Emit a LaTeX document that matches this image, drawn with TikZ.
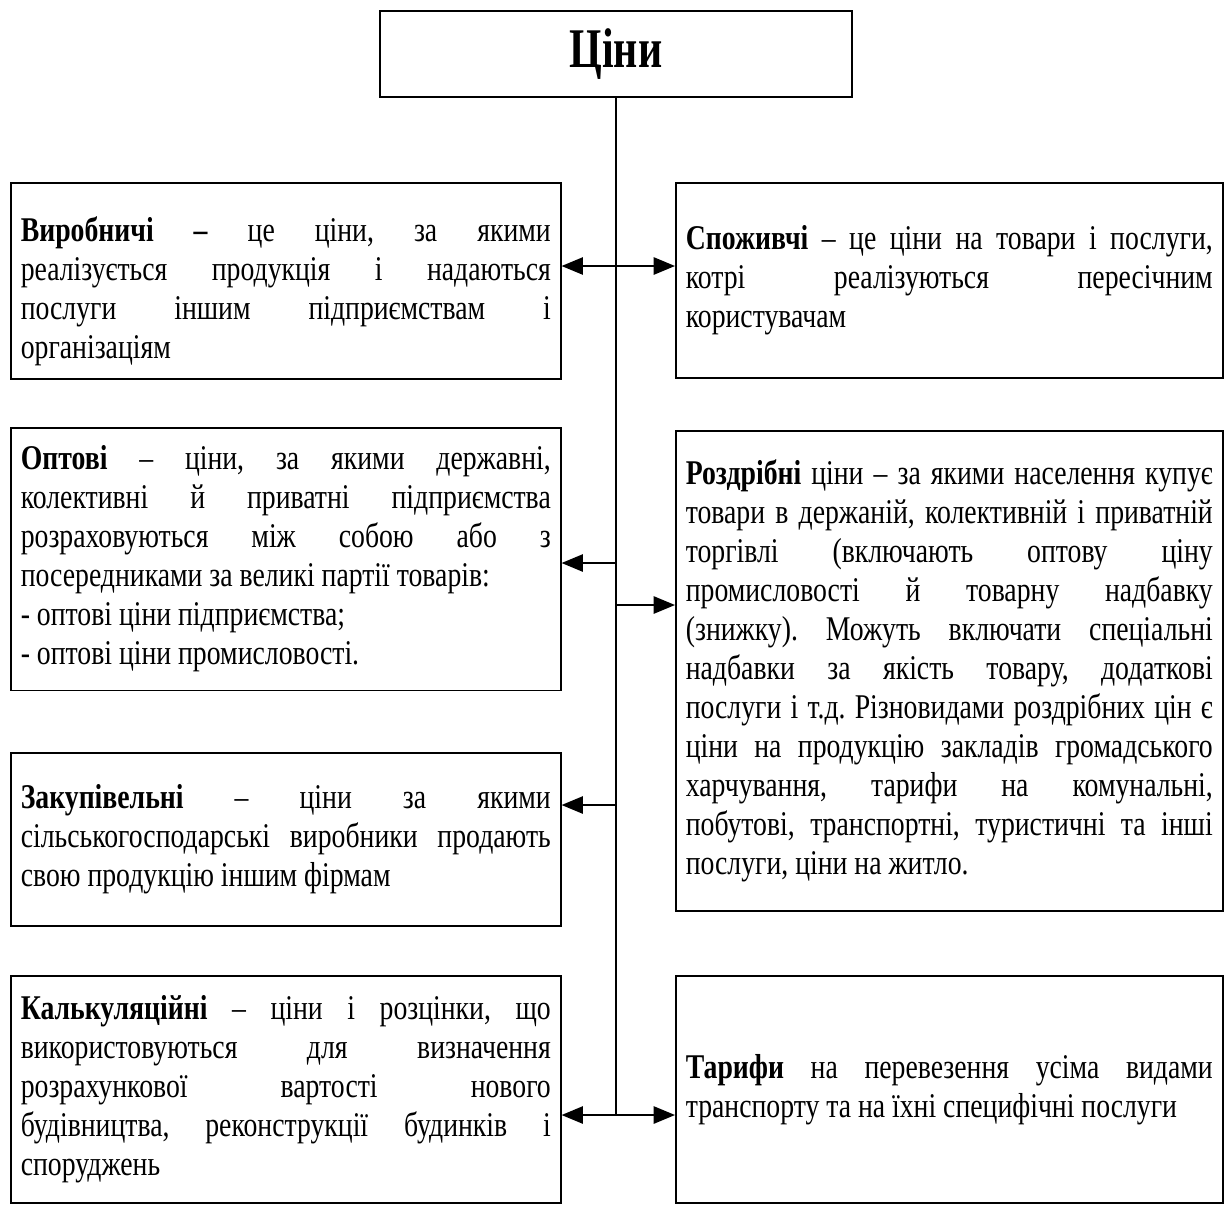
\documentclass[tikz,border=0pt]{standalone}
\usepackage{fontspec}
\setmainfont{Liberation Serif}[FakeStretch=0.8]
\newfontfamily\titlefont{Liberation Serif}[FakeStretch=0.75]
\usetikzlibrary{arrows.meta}
\tikzstyle{box} = [draw, line width=1.2pt, anchor=north west, inner xsep=7.5pt, inner ysep=0pt, align=justify, font=\fontsize{26pt}{29.25pt}\selectfont]
\tikzstyle{arrow} = [draw, line width=1.2pt, -{Triangle[length=16pt, width=13pt]}]
\tikzstyle{spine} = [draw, line width=1.2pt]

\begin{document}
\begin{tikzpicture}[x=0.75pt, y=-0.75pt]
\useasboundingbox (0,0) rectangle (1226,1204);
\hyphenpenalty=10000 \tolerance=10000 \frenchspacing

\node [draw, line width=1.2pt, minimum width=354pt, minimum height=64.5pt, font=\titlefont\fontsize{42pt}{50pt}\selectfont\bfseries] at (616,54) (title) {Ціни};

% left column
\node [box, text width=397.5pt, minimum height=147pt] at (10,182) (vyrob) {\rule{0pt}{34pt}\textbf{Виробничі –} це ціни, за якими\linebreak реалізується продукція і надаються\linebreak послуги іншим підприємствам і\linebreak організаціям};

\node [box, text width=397.5pt, minimum height=197pt] at (10,427) (opt) {\textbf{Оптові} – ціни, за якими державні,\linebreak колективні й приватні підприємства\linebreak розраховуються між собою або з\linebreak посередниками за великі партії товарів:\\- оптові ціни підприємства;\\- оптові ціни промисловості.};

\node [box, text width=397.5pt, minimum height=130pt] at (10,752) (zakup) {\textbf{Закупівельні} – ціни за якими\linebreak сільськогосподарські виробники продають\linebreak свою продукцію іншим фірмам};

\node [box, text width=397.5pt, minimum height=170.25pt] at (10,975) (kalk) {\textbf{Калькуляційні} – ціни і розцінки, що\linebreak використовуються для визначення\linebreak розрахункової вартості нового\linebreak будівництва, реконструкції будинків і\linebreak споруджень};

% right column
\node [box, text width=395.25pt, minimum height=146.25pt] at (675,182) (spozh) {\textbf{Споживчі} – це ціни на товари і послуги,\linebreak котрі реалізуються пересічним\linebreak користувачам};

\node [box, text width=395.25pt, minimum height=360pt] at (675,430) (rozdr) {\textbf{Роздрібні} ціни – за якими населення купує\linebreak товари в держаній, колективній і приватній\linebreak торгівлі (включають оптову ціну\linebreak промисловості й товарну надбавку\linebreak (знижку). Можуть включати спеціальні\linebreak надбавки за якість товару, додаткові\linebreak послуги і т.д. Різновидами роздрібних цін є\linebreak ціни на продукцію закладів громадського\linebreak харчування, тарифи на комунальні,\linebreak побутові, транспортні, туристичні та інші\linebreak послуги, ціни на житло.};

\node [box, text width=395.25pt, minimum height=170.25pt] at (675,975) (taryf) {\textbf{Тарифи} на перевезення усіма видами\linebreak транспорту та на їхні специфічні послуги};

% spine and branches
\coordinate (s1) at (616,266);
\coordinate (s2) at (616,563);
\coordinate (s3) at (616,605);
\coordinate (s4) at (616,805);
\coordinate (s5) at (616,1115);

\path [spine] (title.south) -- (s5);
\path [arrow] (s1) -- (s1 -| vyrob.east);
\path [arrow] (s1) -- (s1 -| spozh.west);
\path [arrow] (s2) -- (s2 -| opt.east);
\path [arrow] (s3) -- (s3 -| rozdr.west);
\path [arrow] (s4) -- (s4 -| zakup.east);
\path [arrow] (s5) -- (s5 -| kalk.east);
\path [arrow] (s5) -- (s5 -| taryf.west);
\end{tikzpicture}
\end{document}
